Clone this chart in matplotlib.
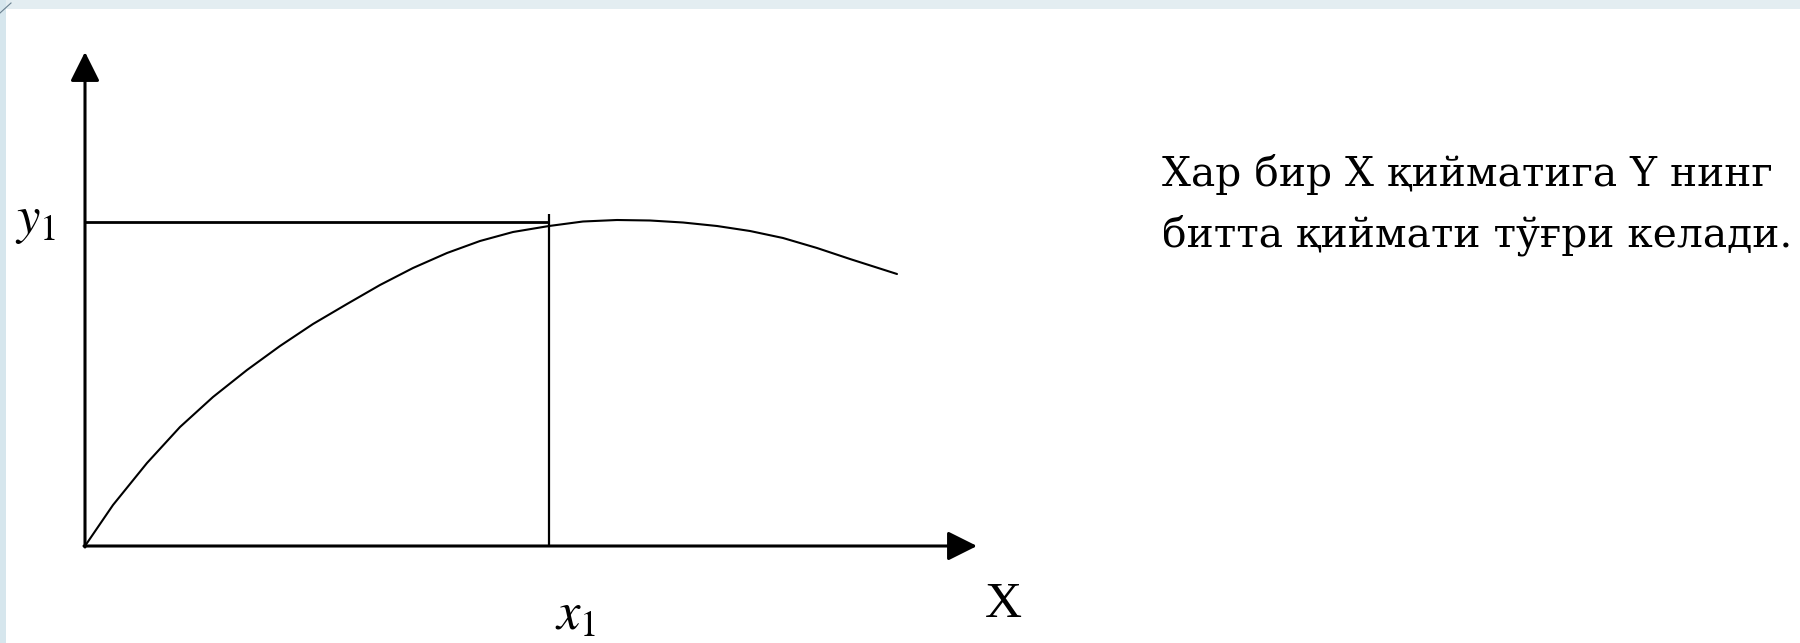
import matplotlib
matplotlib.use("Agg")
import matplotlib.pyplot as plt
from matplotlib.patches import Rectangle
from matplotlib.lines import Line2D

plt.rcParams['mathtext.fontset'] = 'stix'

# ---- data (units: origin at 0,0) ----
curve_x = [0, 0.28, 0.62, 0.95, 1.28, 1.62, 1.95, 2.28, 2.62, 2.95, 3.28, 3.62, 3.95,
           4.28, 4.64, 4.98, 5.32, 5.65, 5.98, 6.32, 6.65, 6.98, 7.32, 7.65, 8.12]
curve_y = [0, 0.41, 0.83, 1.19, 1.49, 1.76, 2.00, 2.22, 2.42, 2.61, 2.78, 2.93, 3.05,
           3.14, 3.20, 3.245, 3.26, 3.255, 3.235, 3.20, 3.15, 3.08, 2.98, 2.87, 2.72]
x1_value = 4.64
y1_value = 3.24
x1_line_top = 3.32
x_axis_end = 8.92
y_axis_end = 4.94

x1_label = r'$x_1$'
y1_label = r'$y_1$'
x_axis_label = 'X'
text_lines = ['Хар бир X қийматига Y нинг', 'битта қиймати тўғри келади.']

# ---- figure ----
W, H = 1800, 643
fig = plt.figure(figsize=(W / 100, H / 100), dpi=100)
fig.patch.set_facecolor('white')

# light blue frame strips (top and left)
fig.patches.append(Rectangle((0, 1 - 9 / H), 1, 9 / H, transform=fig.transFigure,
                             facecolor='#e3edf1', edgecolor='none', zorder=0))
fig.patches.append(Rectangle((0, 0), 6 / W, 1, transform=fig.transFigure,
                             facecolor='#d6e6ed', edgecolor='none', zorder=0))
fig.lines.append(Line2D([0, 11 / W], [1 - 13 / H, 1 - 3 / H], transform=fig.transFigure,
                        color='#6a8190', lw=0.8))

ax = fig.add_axes([0, 0, 1, 1])
ax.set_xlim(-0.85, 17.15)
ax.set_ylim(-0.97, 5.46)
ax.axis('off')
ax.patch.set_alpha(0)

# axes with arrows
arrow_kw = dict(arrowstyle='-|>,head_length=1.8,head_width=0.9', color='black',
                lw=2.2, shrinkA=0, shrinkB=0, mutation_scale=10)
ax.annotate('', xy=(0, y_axis_end), xytext=(0, -0.01), arrowprops=arrow_kw)
ax.annotate('', xy=(x_axis_end, 0), xytext=(-0.01, 0), arrowprops=arrow_kw)

# guide lines
ax.plot([0, x1_value], [y1_value, y1_value], color='black', lw=2.0, solid_capstyle='butt')
ax.plot([x1_value, x1_value], [0, x1_line_top], color='black', lw=1.6, solid_capstyle='butt')

# curve
ax.plot(curve_x, curve_y, color='black', lw=1.5, solid_joinstyle='round',
        solid_capstyle='round')

# labels
ax.text(-0.49, 3.26, y1_label, fontsize=38, ha='center', va='center')
ax.text(4.91, -0.69, x1_label, fontsize=38, ha='center', va='center')
ax.text(9.18, -0.59, x_axis_label, fontsize=37, family='Liberation Serif',
        ha='center', va='center')

# explanatory text
t1 = fig.text(1162 / W, 1 - 186 / H, text_lines[0], fontsize=28,
              family='DejaVu Serif', ha='left', va='baseline')
t2 = fig.text(1162 / W, 1 - 247 / H, text_lines[1], fontsize=28,
              family='DejaVu Serif', ha='left', va='baseline')

# fit the second line to its width in the reference (about 630 px)
fig.canvas.draw()
r = fig.canvas.get_renderer()
w2 = t2.get_window_extent(r).width
fs = 28 * 630 / w2
t1.set_fontsize(fs)
t2.set_fontsize(fs)

fig.savefig('out.png', dpi=100, facecolor='white')
